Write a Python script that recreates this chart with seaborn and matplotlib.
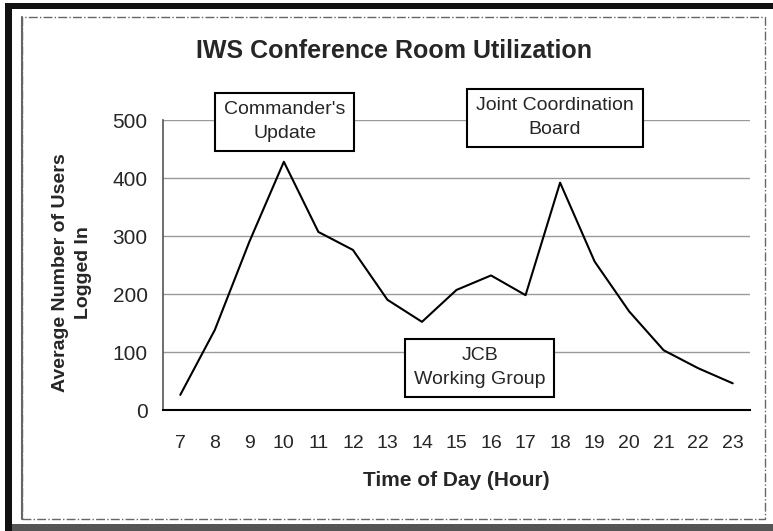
import matplotlib
matplotlib.use("Agg")
import matplotlib.pyplot as plt
from matplotlib.patches import Rectangle
from matplotlib.lines import Line2D
import seaborn as sns
import pandas as pd

hours = [7, 8, 9, 10, 11, 12, 13, 14, 15, 16, 17, 18, 19, 20, 21, 22, 23]
users = [26, 138, 290, 428, 307, 276, 190, 152, 207, 232, 198, 392, 256, 170, 103, 72, 46]
yticks = [0, 100, 200, 300, 400, 500]
title = "IWS Conference Room Utilization"
xlabel = "Time of Day (Hour)"
ylabel = "Average Number of Users\nLogged In"
notes = [("Commander's\nUpdate", 10.03, 497), ("Joint Coordination\nBoard", 17.85, 504), ("JCB\nWorking Group", 15.68, 73)]

df = pd.DataFrame({"hour": hours, "users": users})

sns.set_style("white")
plt.rcParams["font.family"] = ["Liberation Sans", "DejaVu Sans"]

W, H = 773, 531
fig = plt.figure(figsize=(W / 100, H / 100), dpi=100)

def fx(px):
    return px / W

def fy(py):
    return 1 - py / H

ax = fig.add_axes([fx(163), fy(410), fx(750) - fx(163), fy(120) - fy(410)])

for v in yticks[1:]:
    ax.axhline(v, color="#9a9a9a", lw=1.0, zorder=1)

sns.lineplot(data=df, x="hour", y="users", ax=ax, color="black", lw=1.5, zorder=3)

ax.set_xlim(6.5, 23.5)
ax.set_ylim(0, 500)
ax.set_xticks(hours)
ax.set_xticklabels([str(h) for h in hours], fontsize=14)
ax.set_xticks([h + 0.5 for h in hours[:-1]] + [6.5, 23.5], minor=True)
ax.set_yticks(yticks)
ax.set_yticklabels([str(v) for v in yticks], fontsize=15)
ax.tick_params(axis="x", which="major", length=0, pad=18)
ax.tick_params(axis="x", which="minor", length=4, width=1, color="black", direction="out")
ax.tick_params(axis="y", length=5, width=1, color="black", direction="out", pad=6)
for s in ["top", "right"]:
    ax.spines[s].set_visible(False)
ax.spines["left"].set_color("#555555")
ax.spines["bottom"].set_color("black")
ax.spines["left"].set_linewidth(1.2)
ax.spines["bottom"].set_linewidth(1.5)
ax.set_xlabel("")
ax.set_ylabel("")

for txt, x, y in notes:
    ax.text(x, y, txt, ha="center", va="center", fontsize=14, linespacing=1.5,
            zorder=5, clip_on=False,
            bbox=dict(boxstyle="square,pad=0.45", fc="white", ec="black", lw=1.5))

fig.text(fx(394), fy(51), title, ha="center", va="center", fontsize=18, fontweight="bold")
fig.text(fx(456), fy(480), xlabel, ha="center", va="center", fontsize=15, fontweight="bold")
fig.text(fx(72), fy(273), ylabel, ha="center", va="center", rotation=90, fontsize=14,
         fontweight="bold", linespacing=1.4)

# frame decorations
fig.add_artist(Rectangle((fx(5), fy(9)), fx(773) - fx(5), fy(3) - fy(9), transform=fig.transFigure,
                         fc="#111111", ec="none"))
fig.add_artist(Rectangle((fx(5), fy(531)), fx(12) - fx(5), fy(3) - fy(531), transform=fig.transFigure,
                         fc="#111111", ec="none"))
fig.add_artist(Rectangle((fx(12), fy(531)), fx(773) - fx(12), fy(524) - fy(531), transform=fig.transFigure,
                         fc="#555555", ec="none"))
fig.add_artist(Rectangle((fx(22), fy(519)), fx(765) - fx(22), fy(17) - fy(519), transform=fig.transFigure,
                         fill=False, ec="#666666", lw=1.0, ls="-."))
fig.add_artist(Line2D([fx(22), fx(22)], [fy(17), fy(519)], transform=fig.transFigure,
                      color="#666666", lw=1.5))

fig.savefig("out.png", dpi=100)
